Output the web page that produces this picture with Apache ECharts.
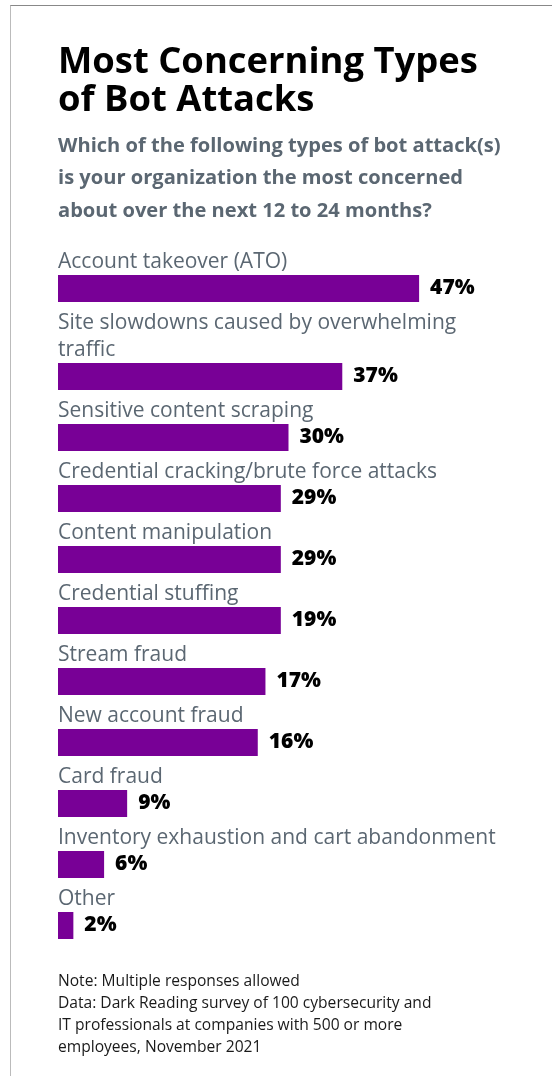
<!DOCTYPE html>
<html>
<head>
<meta charset="utf-8">
<script src="https://cdn.jsdelivr.net/npm/echarts@6/dist/echarts.min.js"></script>
<style>
html,body{margin:0;padding:0;background:#fff;}
#chart{width:552px;height:1076px;}
#frame{position:absolute;left:10px;top:5px;width:545px;height:1080px;border-top:1.5px solid #888;border-left:1.5px solid #bbb;pointer-events:none;}
</style>
</head>
<body>
<div id="chart"></div>
<div id="frame"></div>
<script>
// Category names as printed
var categories = [
  'Account takeover (ATO)',
  'Site slowdowns caused by overwhelming\ntraffic',
  'Sensitive content scraping',
  'Credential cracking/brute force attacks',
  'Content manipulation',
  'Credential stuffing',
  'Stream fraud',
  'New account fraud',
  'Card fraud',
  'Inventory exhaustion and cart abandonment',
  'Other'
];
// Bar lengths as drawn in the picture (percent)
var barLengths = [47, 37, 30, 29, 29, 29, 27, 26, 9, 6, 2];
// Value labels as printed
var valueLabels = ['47%', '37%', '30%', '29%', '29%', '19%', '17%', '16%', '9%', '6%', '2%'];

var titleText = 'Most Concerning Types\nof Bot Attacks';
var subtitleText = 'Which of the following types of bot attack(s)\nis your organization the most concerned\nabout over the next 12 to 24 months?';
var footerText = 'Note: Multiple responses allowed\nData: Dark Reading survey of 100 cybersecurity and\nIT professionals at companies with 500 or more\nemployees, November 2021';

var BAR = '#780096';
var FONT = '"Open Sans", "Noto Sans", sans-serif';

var chart = echarts.init(document.getElementById('chart'), null, {renderer: 'canvas'});

var groups = [[0, 1], [1, 11]];

var grids = [
  {left: 58, width: 461, top: 258, height: 61},
  {left: 58, width: 461, top: 346, height: 610}
];
var xAxes = [], yAxes = [], series = [];
groups.forEach(function (g, gi) {
  var cats = categories.slice(g[0], g[1]);
  var idx = [];
  for (var i = g[0]; i < g[1]; i++) idx.push(i);
  xAxes.push({type: 'value', gridIndex: gi, min: 0, max: 60, show: false});
  yAxes.push({type: 'category', gridIndex: gi, data: cats, inverse: true, show: false});
  series.push({
    type: 'bar', xAxisIndex: gi, yAxisIndex: gi, barWidth: 27, barGap: '-100%',
    silent: true,
    itemStyle: {color: BAR},
    data: idx.map(function (k) { return barLengths[k]; }),
    label: {
      show: true, position: [0, 1], align: 'left', verticalAlign: 'bottom',
      formatter: function (p) { return p.name; },
      fontFamily: FONT, fontSize: 21, lineHeight: 27, color: '#5b6772', fontWeight: 400
    }
  });
  series.push({
    type: 'bar', xAxisIndex: gi, yAxisIndex: gi, barWidth: 27, barGap: '-100%',
    silent: true,
    itemStyle: {color: 'rgba(0,0,0,0)'},
    data: idx.map(function (k) { return barLengths[k]; }),
    label: {
      show: true, position: 'right', distance: 11,
      formatter: function (p) { return valueLabels[g[0] + p.dataIndex]; },
      fontFamily: FONT, fontSize: 21, fontWeight: 800, color: '#000'
    }
  });
});

chart.setOption({
  animation: false,
  title: [
    {text: titleText, left: 58, top: 44, padding: 0,
     textStyle: {fontFamily: FONT, fontSize: 36.4, fontWeight: 700, color: '#000', lineHeight: 38}},
    {text: subtitleText, left: 58, top: 130, padding: 0,
     textStyle: {fontFamily: FONT, fontSize: 20.1, fontWeight: 700, color: '#5b6772', lineHeight: 32.5}},
    {text: footerText, left: 58, top: 971, padding: 0,
     textStyle: {fontFamily: FONT, fontSize: 15.6, fontWeight: 400, color: '#1a1a1a', lineHeight: 21.8}}
  ],
  grid: grids,
  xAxis: xAxes,
  yAxis: yAxes,
  series: series
});
</script>
</body>
</html>
